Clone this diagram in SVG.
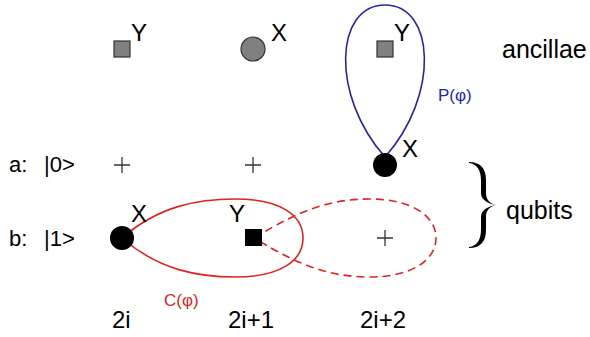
<svg xmlns="http://www.w3.org/2000/svg" width="590" height="337" viewBox="0 0 590 337">
<style>
text{font-family:"Liberation Sans",Arial,sans-serif;fill:#000}
.lbl{font-size:24px}
.big{font-size:24px}
.side{font-size:25px}
.row{font-size:22px}
.small{font-size:17px}
.grey{fill:#808080;stroke:#333;stroke-width:1.2}
.cross{stroke:#333;stroke-width:1.3;fill:none}
.red{stroke:#e02222;stroke-width:1.6;fill:none}
.blue{stroke:#2626a6;stroke-width:1.6;fill:none}
</style>
<rect width="590" height="337" fill="#fff"/>
<g id="connectors">
<path class="blue" d="M385,157 C330,95 335,5 385,5 C435,5 440,95 385,157 Z"/>
<path class="red" d="M122,238 C160,205 200,199 235,199 C280,199 303,215 303,238 C303,261 280,277 235,277 C200,277 160,271 122,238 Z"/>
<path class="red" stroke-dasharray="8,5" d="M254,238 C300,210 330,199 370,199 C410,199 436,215 436,238 C436,261 410,277 370,277 C330,277 300,266 254,238"/>
</g>
<g id="anc1"><rect class="grey" x="114" y="41" width="16" height="16"/><text class="lbl" x="131" y="41">Y</text></g>
<g id="anc2"><circle class="grey" cx="253" cy="49" r="12"/><text class="lbl" x="271" y="41">X</text></g>
<g id="anc3"><rect class="grey" x="377" y="41" width="16" height="16"/><text class="lbl" x="394" y="41">Y</text></g>
<g id="a1"><path class="cross" d="M114,165 H130 M122,157 V173"/></g>
<g id="a2"><path class="cross" d="M245,165 H261 M253,157 V173"/></g>
<g id="a3"><circle cx="385" cy="165" r="12" fill="#000"/><text class="lbl" x="402" y="157">X</text></g>
<g id="b1"><circle cx="122" cy="238" r="12" fill="#000"/><text class="lbl" x="131" y="222">X</text></g>
<g id="b2"><rect x="245" y="229" width="17" height="17" fill="#000"/><text class="lbl" x="229" y="222">Y</text></g>
<g id="b3"><path class="cross" d="M377,238 H393 M385,230 V246"/></g>
<g id="labels">
<text class="small" x="438" y="101" style="fill:#2626a6">P(φ)</text>
<text class="small" x="164" y="306" style="fill:#e02222">C(φ)</text>
<text class="row" x="9" y="172">a:</text>
<text class="row" x="44" y="172">|0&gt;</text>
<text class="row" x="9" y="246">b:</text>
<text class="row" x="44" y="246">|1&gt;</text>
<text class="big" x="112" y="328">2i</text>
<text class="big" x="228" y="328">2i+1</text>
<text class="big" x="360" y="328">2i+2</text>
<text class="side" x="502" y="58">ancillae</text>
<text class="side" x="506" y="219">qubits</text>
<path d="M469,162 C480,162 486,168 486,180 L486,193 C486,200 490,204 497,205 C488,204 481,200 481,193 L481,181 C481,170 477,164 469,163 Z M469,248 C480,248 486,242 486,230 L486,217 C486,210 490,206 497,205 C488,206 481,210 481,217 L481,229 C481,240 477,246 469,247 Z" fill="#000"/>
</g>
</svg>
